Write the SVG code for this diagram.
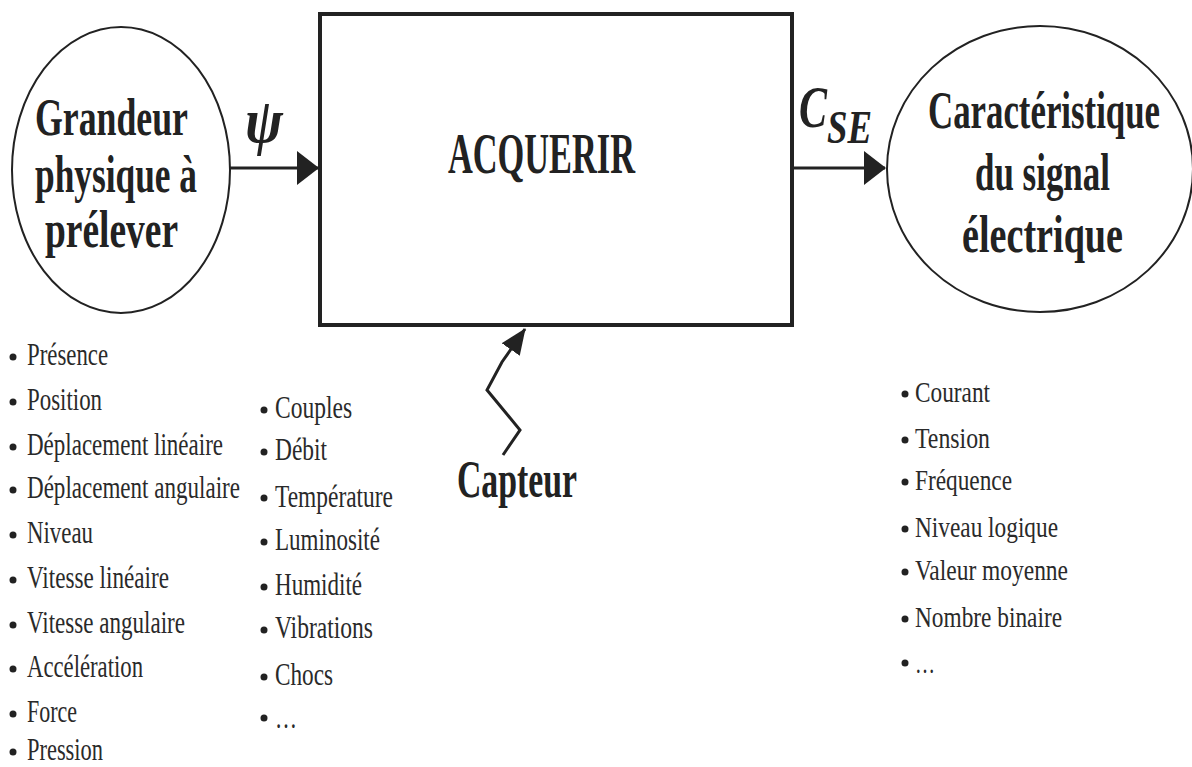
<svg xmlns="http://www.w3.org/2000/svg" width="1192" height="767" viewBox="0 0 1192 767">
<style>
.lbl{font-family:"Liberation Serif","Times New Roman",serif;font-weight:bold;fill:#222;}
.big{font-size:52px;}
.li{font-family:"Liberation Serif","Times New Roman",serif;font-size:31px;fill:#2a2a2a;}
.ri{font-family:"Liberation Serif","Times New Roman",serif;font-size:29px;fill:#2a2a2a;}
.edge{stroke:#222;stroke-width:3;fill:none;}
.shape{stroke:#222;fill:#fff;}
.dot{fill:#222;}
</style>
<defs>
<marker id="ah" markerWidth="22" markerHeight="34" refX="21" refY="17" orient="auto" markerUnits="userSpaceOnUse">
<path d="M0,0 L22,17 L0,34 Z" fill="#222"/>
</marker>
<marker id="ah2" markerWidth="26" markerHeight="26" refX="25" refY="13" orient="auto" markerUnits="userSpaceOnUse">
<path d="M0,2 L26,13 L0,24 Z" fill="#222"/>
</marker>
</defs>
<rect width="1192" height="767" fill="#fff"/>

<g id="connectors">
<line class="edge" x1="230" y1="168" x2="318" y2="168" marker-end="url(#ah)"/>
<line class="edge" x1="793" y1="168" x2="885" y2="168" marker-end="url(#ah)"/>
<polyline class="edge" stroke-width="2.5" points="503,455 520,430 487,390 502,362 525,329" marker-end="url(#ah2)"/>
<text class="lbl" font-size="64" font-style="italic" transform="translate(245,142) scale(0.85,1)" textLength="44.7" lengthAdjust="spacingAndGlyphs">ψ</text>
<text class="lbl" font-size="60" font-style="italic" transform="translate(799,127) scale(0.7,1)" textLength="40" lengthAdjust="spacingAndGlyphs">C</text>
<text class="lbl" font-size="46" font-style="italic" transform="translate(827,143) scale(0.8,1)" textLength="56.25" lengthAdjust="spacingAndGlyphs">SE</text>
</g>

<g id="node-grandeur">
<ellipse class="shape" stroke-width="2" cx="121" cy="170" rx="109" ry="143"/>
<text class="lbl big" transform="translate(35,135) scale(0.68,1)" textLength="225" lengthAdjust="spacingAndGlyphs">Grandeur</text>
<text class="lbl big" transform="translate(35,192) scale(0.68,1)" textLength="238.2" lengthAdjust="spacingAndGlyphs">physique à</text>
<text class="lbl big" transform="translate(45,247) scale(0.68,1)" textLength="195.6" lengthAdjust="spacingAndGlyphs">prélever</text>
</g>

<g id="node-acquerir">
<rect class="shape" stroke-width="4" x="320" y="14" width="472" height="311"/>
<text class="lbl" font-size="58" font-weight="normal" transform="translate(448,173) scale(0.63,1)" textLength="296.8" lengthAdjust="spacingAndGlyphs">ACQUERIR</text>
</g>

<g id="node-caracteristique">
<ellipse class="shape" stroke-width="2" cx="1040" cy="169" rx="153" ry="143"/>
<text class="lbl big" transform="translate(928,128) scale(0.68,1)" textLength="341.2" lengthAdjust="spacingAndGlyphs">Caractéristique</text>
<text class="lbl big" transform="translate(975,190) scale(0.68,1)" textLength="198.5" lengthAdjust="spacingAndGlyphs">du signal</text>
<text class="lbl big" transform="translate(962,252) scale(0.68,1)" textLength="236.8" lengthAdjust="spacingAndGlyphs">électrique</text>
</g>

<g id="node-capteur">
<text class="lbl" font-size="52" transform="translate(457,497) scale(0.65,1)" textLength="184.6" lengthAdjust="spacingAndGlyphs">Capteur</text>
</g>

<g id="list-grandeurs-1">
<circle class="dot" cx="13" cy="357" r="3.5"/><text class="li" transform="translate(27,365) scale(0.74,1)" textLength="109.5" lengthAdjust="spacingAndGlyphs">Présence</text>
<circle class="dot" cx="13" cy="402" r="3.5"/><text class="li" transform="translate(27,410) scale(0.74,1)" textLength="101.4" lengthAdjust="spacingAndGlyphs">Position</text>
<circle class="dot" cx="13" cy="447" r="3.5"/><text class="li" transform="translate(27,455) scale(0.74,1)" textLength="264.9" lengthAdjust="spacingAndGlyphs">Déplacement linéaire</text>
<circle class="dot" cx="13" cy="490" r="3.5"/><text class="li" transform="translate(27,498) scale(0.74,1)" textLength="287.8" lengthAdjust="spacingAndGlyphs">Déplacement angulaire</text>
<circle class="dot" cx="13" cy="535" r="3.5"/><text class="li" transform="translate(27,543) scale(0.74,1)" textLength="89.2" lengthAdjust="spacingAndGlyphs">Niveau</text>
<circle class="dot" cx="13" cy="580" r="3.5"/><text class="li" transform="translate(27,588) scale(0.74,1)" textLength="191.9" lengthAdjust="spacingAndGlyphs">Vitesse linéaire</text>
<circle class="dot" cx="13" cy="625" r="3.5"/><text class="li" transform="translate(27,633) scale(0.74,1)" textLength="213.5" lengthAdjust="spacingAndGlyphs">Vitesse angulaire</text>
<circle class="dot" cx="13" cy="669" r="3.5"/><text class="li" transform="translate(27,677) scale(0.74,1)" textLength="156.8" lengthAdjust="spacingAndGlyphs">Accélération</text>
<circle class="dot" cx="13" cy="714" r="3.5"/><text class="li" transform="translate(27,722) scale(0.74,1)" textLength="67.6" lengthAdjust="spacingAndGlyphs">Force</text>
<circle class="dot" cx="13" cy="752" r="3.5"/><text class="li" transform="translate(27,760) scale(0.74,1)" textLength="102.7" lengthAdjust="spacingAndGlyphs">Pression</text>
</g>

<g id="list-grandeurs-2">
<circle class="dot" cx="264" cy="410" r="3.5"/><text class="li" transform="translate(275,418) scale(0.74,1)" textLength="104.1" lengthAdjust="spacingAndGlyphs">Couples</text>
<circle class="dot" cx="264" cy="452" r="3.5"/><text class="li" transform="translate(275,460) scale(0.74,1)" textLength="70.3" lengthAdjust="spacingAndGlyphs">Débit</text>
<circle class="dot" cx="264" cy="498" r="3.5"/><text class="li" transform="translate(275,507) scale(0.74,1)" textLength="159.5" lengthAdjust="spacingAndGlyphs">Température</text>
<circle class="dot" cx="264" cy="542" r="3.5"/><text class="li" transform="translate(275,550) scale(0.74,1)" textLength="141.9" lengthAdjust="spacingAndGlyphs">Luminosité</text>
<circle class="dot" cx="264" cy="587" r="3.5"/><text class="li" transform="translate(275,595) scale(0.74,1)" textLength="117.6" lengthAdjust="spacingAndGlyphs">Humidité</text>
<circle class="dot" cx="264" cy="630" r="3.5"/><text class="li" transform="translate(275,638) scale(0.74,1)" textLength="132.4" lengthAdjust="spacingAndGlyphs">Vibrations</text>
<circle class="dot" cx="264" cy="677" r="3.5"/><text class="li" transform="translate(275,685) scale(0.74,1)" textLength="78.4" lengthAdjust="spacingAndGlyphs">Chocs</text>
<circle class="dot" cx="264" cy="718" r="3.5"/><text class="li" transform="translate(275,728) scale(0.74,1)" textLength="29.7" lengthAdjust="spacingAndGlyphs">…</text>
</g>

<g id="list-signal">
<circle class="dot" cx="905" cy="394" r="3.5"/><text class="ri" transform="translate(915,402) scale(0.8,1)" textLength="93.75" lengthAdjust="spacingAndGlyphs">Courant</text>
<circle class="dot" cx="905" cy="440" r="3.5"/><text class="ri" transform="translate(915,448) scale(0.8,1)" textLength="93.75" lengthAdjust="spacingAndGlyphs">Tension</text>
<circle class="dot" cx="905" cy="482" r="3.5"/><text class="ri" transform="translate(915,490) scale(0.8,1)" textLength="121.25" lengthAdjust="spacingAndGlyphs">Fréquence</text>
<circle class="dot" cx="905" cy="529" r="3.5"/><text class="ri" transform="translate(915,537) scale(0.8,1)" textLength="178.75" lengthAdjust="spacingAndGlyphs">Niveau logique</text>
<circle class="dot" cx="905" cy="572" r="3.5"/><text class="ri" transform="translate(915,580) scale(0.8,1)" textLength="191.25" lengthAdjust="spacingAndGlyphs">Valeur moyenne</text>
<circle class="dot" cx="905" cy="619" r="3.5"/><text class="ri" transform="translate(915,627) scale(0.8,1)" textLength="183.75" lengthAdjust="spacingAndGlyphs">Nombre binaire</text>
<circle class="dot" cx="905" cy="663" r="3.5"/><text class="ri" transform="translate(915,673) scale(0.8,1)" textLength="25" lengthAdjust="spacingAndGlyphs">…</text>
</g>
</svg>
